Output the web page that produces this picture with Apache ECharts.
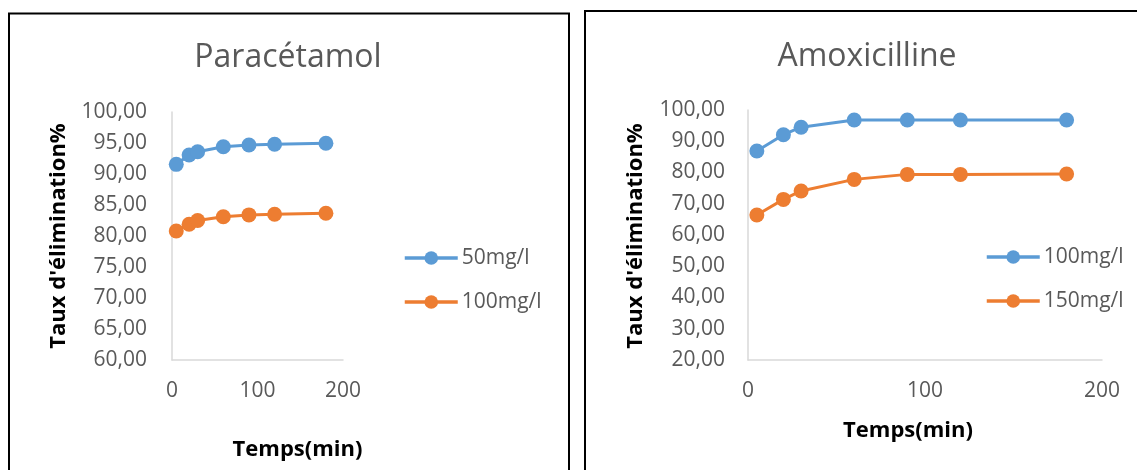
<!DOCTYPE html>
<html><head><meta charset="utf-8">
<script src="https://cdn.jsdelivr.net/npm/echarts@6/dist/echarts.min.js"></script>
<style>html,body{margin:0;padding:0;background:#fff}#c{width:1137px;height:470px}</style>
</head><body><div id="c"></div>
<script>
// Data
const time = [5, 20, 30, 60, 90, 120, 180];
const para50 = [91.56, 93.06, 93.6, 94.4, 94.68, 94.8, 94.95];
const para100 = [80.8, 81.9, 82.5, 83.1, 83.4, 83.5, 83.66];
const amox100 = [86.9, 92.1, 94.5, 96.8, 96.8, 96.8, 96.8];
const amox150 = [66.4, 71.4, 74.1, 77.8, 79.4, 79.4, 79.5];
const titles = ['Paracétamol', 'Amoxicilline'];
const legendNames = [['50mg/l', '100mg/l'], ['100mg/l', '150mg/l']];
const xName = 'Temps(min)';
const yName = "Taux d'élimination%";

const pairs = (xs, ys) => xs.map((x, i) => [x, ys[i]]);
const BLUE = '#5b9bd5', ORANGE = '#ed7d31', GREY = '#595959';
const FONT = '"Open Sans", "Noto Sans", sans-serif';
const fmt = v => v.toFixed(2).replace('.', ',');
// internal unique ids per panel so legends pick the right colours
const sid = (p, n) => p + '|' + n;

const chart = echarts.init(document.getElementById('c'), null, {renderer: 'canvas'});

function xAxis(gi) {
  return {
    type: 'value', gridIndex: gi, min: 0, max: 200, interval: 100,
    axisLine: {show: true, lineStyle: {color: '#d9d9d9', width: 1.5}},
    axisTick: {show: false}, splitLine: {show: false},
    axisLabel: {color: GREY, fontSize: 21, fontFamily: FONT, margin: 21}
  };
}
function yAxis(gi, min, max, interval, margin) {
  return {
    type: 'value', gridIndex: gi, min: min, max: max, interval: interval,
    axisLine: {show: true, lineStyle: {color: '#d9d9d9', width: 1.5}},
    axisTick: {show: false}, splitLine: {show: false},
    axisLabel: {color: GREY, fontSize: 21, fontFamily: FONT, margin: margin, formatter: fmt}
  };
}
function series(name, gi, data, color) {
  return {
    name: name, type: 'line', xAxisIndex: gi, yAxisIndex: gi, data: data,
    symbol: 'circle', symbolSize: 15, showSymbol: true,
    lineStyle: {color: color, width: 3}, itemStyle: {color: color},
    emphasis: {disabled: true}, animation: false
  };
}
function legend(names, left, top) {
  return {
    orient: 'vertical', left: left, top: top, itemWidth: 53, itemHeight: 17, itemGap: 22,
    data: names, selectedMode: false, padding: 0,
    formatter: n => n.split('|')[1],
    lineStyle: {width: 3.5},
    textStyle: {color: GREY, fontSize: 21, lineHeight: 22, fontFamily: FONT, padding: [0, 0, 0, -1]}
  };
}

chart.setOption({
  animation: false,
  grid: [
    {left: 172, top: 112, width: 171, height: 248},
    {left: 748, top: 110, width: 354, height: 250}
  ],
  xAxis: [xAxis(0), xAxis(1)],
  yAxis: [yAxis(0, 60, 100, 5, 25), yAxis(1, 20, 100, 10, 23)],
  legend: [
    legend([sid('P', legendNames[0][0]), sid('P', legendNames[0][1])], 403, 247),
    legend([sid('A', legendNames[1][0]), sid('A', legendNames[1][1])], 985, 246)
  ],
  series: [
    series(sid('P', legendNames[0][0]), 0, pairs(time, para50), BLUE),
    series(sid('P', legendNames[0][1]), 0, pairs(time, para100), ORANGE),
    series(sid('A', legendNames[1][0]), 1, pairs(time, amox100), BLUE),
    series(sid('A', legendNames[1][1]), 1, pairs(time, amox150), ORANGE)
  ],
  graphic: [
    {type: 'rect', shape: {x: 9, y: 13.5, width: 560, height: 480}, style: {fill: 'none', stroke: '#000', lineWidth: 2}},
    {type: 'rect', shape: {x: 585, y: 11, width: 580, height: 480}, style: {fill: 'none', stroke: '#000', lineWidth: 2}},
    {type: 'text', x: 288, y: 58, style: {text: titles[0], fill: GREY, font: '32px ' + FONT, textAlign: 'center', textVerticalAlign: 'middle'}},
    {type: 'text', x: 867, y: 57, style: {text: titles[1], fill: GREY, font: '32px ' + FONT, textAlign: 'center', textVerticalAlign: 'middle'}},
    {type: 'text', x: 297.5, y: 450, style: {text: xName, fill: '#000', font: 'bold 22px ' + FONT, textAlign: 'center', textVerticalAlign: 'middle'}},
    {type: 'text', x: 908, y: 431, style: {text: xName, fill: '#000', font: 'bold 22px ' + FONT, textAlign: 'center', textVerticalAlign: 'middle'}},
    {type: 'text', x: 59, y: 236, rotation: Math.PI / 2, style: {text: yName, fill: '#000', font: 'bold 22px ' + FONT, textAlign: 'center', textVerticalAlign: 'middle'}},
    {type: 'text', x: 636, y: 236, rotation: Math.PI / 2, style: {text: yName, fill: '#000', font: 'bold 22px ' + FONT, textAlign: 'center', textVerticalAlign: 'middle'}}
  ]
});
</script>
</body></html>
